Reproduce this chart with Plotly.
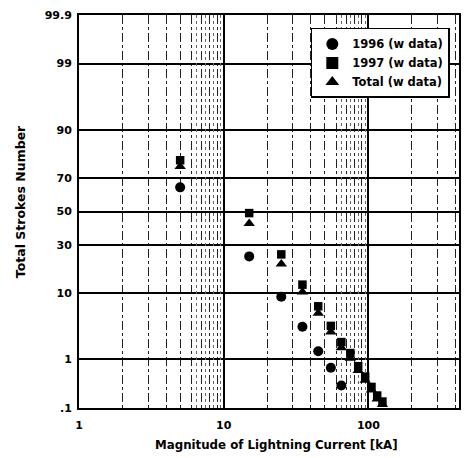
import plotly.graph_objects as go
from statistics import NormalDist

# ---- data ----
current_1996 = [5, 15, 25, 35, 45, 55, 65]
pct_1996 = [64.8, 24.0, 9.0, 3.5, 1.4, 0.7, 0.31]

current_1997 = [5, 15, 25, 35, 45, 55, 65, 75, 85, 95, 105, 115, 125]
pct_1997 = [79.0, 49.0, 25.0, 12.5, 6.8, 3.6, 2.0, 1.3, 0.75, 0.47, 0.29, 0.19, 0.14]

current_total = [5, 15, 25, 35, 45, 55, 65, 75, 85, 95, 105, 115, 125]
pct_total = [76.0, 42.5, 20.5, 10.3, 5.5, 2.9, 1.6, 1.05, 0.62, 0.40, 0.25, 0.16, 0.12]

y_ticks = [0.1, 1, 10, 30, 50, 70, 90, 99, 99.9]
y_tick_labels = [".1", "1", "10", "30", "50", "70", "90", "99", "99.9"]
x_ticks = [1, 10, 100]
x_tick_labels = ["1", "10", "100"]
x_minor = [2, 3, 4, 5, 6, 7, 8, 9, 20, 30, 40, 50, 60, 70, 80, 90, 200, 300, 400]
x_half = [6.5, 7.5, 8.5, 9.5, 65, 75, 85, 95]

nd = NormalDist()
def probit(vals):
    return [nd.inv_cdf(v / 100.0) for v in vals]

FONT = "DejaVu Sans, Verdana, sans-serif"

fig = go.Figure()
fig.add_trace(go.Scatter(x=current_1996, y=probit(pct_1996), mode="markers",
                         name="1996 (w data)",
                         marker=dict(symbol="circle", size=10, color="black")))
fig.add_trace(go.Scatter(x=current_1997, y=probit(pct_1997), mode="markers",
                         name="1997 (w data)",
                         marker=dict(symbol="square", size=8.5, color="black")))
fig.add_trace(go.Scatter(x=current_total, y=probit(pct_total), mode="markers",
                         name="Total (w data)",
                         marker=dict(symbol="triangle-up", size=10, color="black")))

xr = [0, 2.626]
fig.update_layout(
    width=467, height=458,
    margin=dict(l=79, r=8, t=15, b=50, autoexpand=False),
    paper_bgcolor="white", plot_bgcolor="white",
    font=dict(family=FONT, size=11, color="black", weight="bold"),
    xaxis=dict(
        type="log", range=xr, automargin=False,
        tickmode="array", tickvals=x_ticks, ticktext=x_tick_labels,
        showgrid=True, gridcolor="black", gridwidth=1.5,
        showline=True, linecolor="black", linewidth=2, mirror=True,
        ticks="", ticklabelstandoff=6,
        tickfont=dict(size=11, weight="bold"),
        minor=dict(tickmode="array", tickvals=x_minor, showgrid=True,
                   gridcolor="#222222", gridwidth=1, griddash="dashdot"),
        zeroline=False,
    ),
    xaxis2=dict(
        type="log", range=xr, overlaying="x", side="bottom",
        tickmode="array", tickvals=x_half, showticklabels=False,
        showgrid=True, gridcolor="#666666", gridwidth=1, griddash="dot",
        showline=False, ticks="", zeroline=False, automargin=False,
    ),
    yaxis=dict(
        range=[nd.inv_cdf(0.001), nd.inv_cdf(0.999)], automargin=False,
        tickmode="array", tickvals=probit(y_ticks), ticktext=y_tick_labels,
        showgrid=True, gridcolor="black", gridwidth=1.5,
        showline=True, linecolor="black", linewidth=2, mirror=True,
        ticks="", ticklabelstandoff=3,
        tickfont=dict(size=11, weight="bold"),
        zeroline=False,
    ),
    legend=dict(
        x=0.61, y=0.967, xanchor="left", yanchor="top",
        bgcolor="white", bordercolor="black", borderwidth=1.5,
        font=dict(size=11.5, weight="bold"),
        itemsizing="constant", tracegroupgap=0,
    ),
    showlegend=True,
    annotations=[
        dict(text="Total Strokes Number", textangle=-90,
             xref="paper", yref="paper", x=-0.155, y=0.524,
             xanchor="center", yanchor="middle", showarrow=False,
             font=dict(size=12.5, weight="bold", color="black")),
        dict(text="Magnitude of Lightning Current [kA]",
             xref="paper", yref="paper", x=0.521, y=-0.094,
             xanchor="center", yanchor="middle", showarrow=False,
             font=dict(size=11.8, weight="bold", color="black")),
    ],
)

# invisible trace so the overlay axis renders its grid
fig.add_trace(go.Scatter(x=[None], y=[None], xaxis="x2", showlegend=False,
                         hoverinfo="skip"))

fig.write_html("out.html",
               config={"displayModeBar": False},
               post_script="document.body.style.margin='0';"
                           "document.body.style.overflow='hidden';")
